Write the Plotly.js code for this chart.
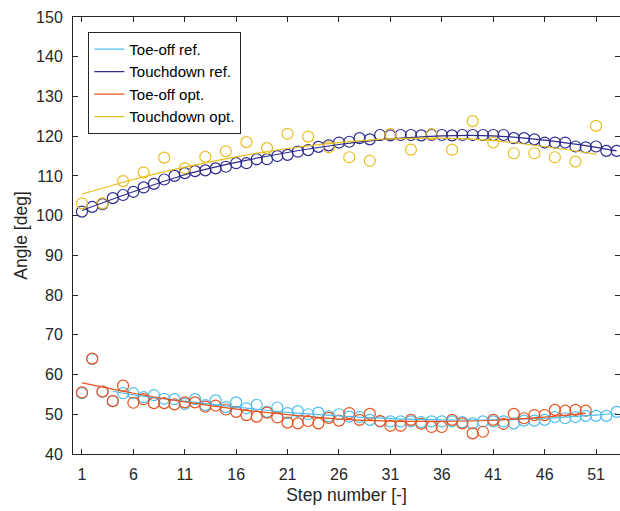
<!DOCTYPE html>
<html>
<head>
<meta charset="utf-8">
<script src="https://cdn.plot.ly/plotly-3.0.1.min.js"></script>
<style>html,body{margin:0;padding:0;background:#fff;}#chart{width:620px;height:511px;}</style>
</head>
<body>
<div id="chart"></div>
<script>
// ---- data ----
const stepsAll = Array.from({length: 53}, (_, i) => i + 1);
const stepsOpt = Array.from({length: 50}, (_, i) => i + 1);
const stepsOdd = Array.from({length: 26}, (_, i) => 2 * i + 1);

const xTickVals = [1, 6, 11, 16, 21, 26, 31, 36, 41, 46, 51];
const yTickVals = [40, 50, 60, 70, 80, 90, 100, 110, 120, 130, 140, 150];

const touchdownRef = [101.0,102.2,102.9,104.4,105.2,106.0,107.1,108.0,109.1,110.0,
  110.7,111.2,111.4,111.9,112.3,113.2,113.2,114.2,114.2,115.0,
  115.3,116.1,116.5,117.3,117.7,118.4,118.6,119.5,119.2,120.3,
  120.2,120.3,120.3,120.2,120.3,120.3,120.2,120.3,120.3,120.3,
  120.3,120.3,119.5,119.5,119.2,118.4,118.4,118.4,117.4,117.2,
  117.4,116.3,116.3];

const touchdownOpt = [103.1,103.1,108.7,110.9,114.6,111.9,114.8,116.2,118.5,117.0,
  120.6,119.9,117.2,114.7,113.8,120.5,116.6,120.5,116.6,123.8,
  118.4,115.7,115.7,114.7,113.6,122.6];

const toeoffRef = [55.3,63.9,55.7,53.3,55.3,55.3,54.3,54.8,53.9,53.8,
  52.6,53.8,52.3,53.5,51.8,53.0,51.5,52.4,50.6,51.7,
  50.3,50.8,50.0,50.4,49.5,50.0,49.4,49.3,48.6,48.2,
  48.2,48.2,48.2,48.0,48.2,48.2,48.2,48.0,47.7,48.2,
  48.2,48.2,47.7,48.4,48.4,48.6,49.3,49.0,49.3,49.6,
  49.6,49.6,50.6];

const toeoffOpt = [55.5,64.0,55.7,53.3,57.2,52.9,53.8,52.8,52.8,52.5,
  53.0,53.0,51.9,52.2,51.2,50.6,49.8,49.4,50.4,49.2,
  47.9,47.7,48.3,47.7,49.1,48.4,50.3,48.6,50.1,48.3,
  47.1,47.1,48.6,47.6,46.8,46.8,48.6,47.7,45.2,45.6,
  48.6,47.6,50.1,49.0,49.8,49.8,51.1,50.9,51.1,50.9];

// trend lines
const tdRefFitSteps = [1, 6, 11, 16, 21, 26, 31, 36, 41, 46, 51, 53];
const tdRefFit = [101.3, 106.0, 110.3, 113.4, 115.9, 117.9, 119.3, 120.1, 120.1, 119.0, 117.2, 116.3];
const tdOptFitSteps = [1, 6, 11, 16, 21, 26, 31, 36, 41, 46, 51];
const tdOptFit = [105.4, 109.1, 112.2, 114.8, 116.9, 118.4, 119.3, 119.5, 118.9, 117.4, 115.5];
const toRefFitSteps = [4, 6, 11, 16, 21, 26, 31, 36, 41, 46, 51, 53];
const toRefFit = [55.8, 54.9, 53.3, 51.8, 50.5, 49.6, 48.9, 48.6, 48.6, 49.0, 49.8, 50.2];
const toOptFitSteps = [1, 6, 11, 16, 21, 26, 31, 36, 41, 46, 50];
const toOptFit = [57.9, 55.3, 53.1, 51.3, 49.9, 48.8, 48.3, 48.2, 48.5, 49.3, 50.3];

const seriesNames = ['Toe-off ref.', 'Touchdown ref.', 'Toe-off opt.', 'Touchdown opt.'];

// ---- styling ----
const cCyan = '#4DBEEE', cNavy = '#2B2C8E', cOrange = '#E8521E', cYellow = '#E8BE1E';
const axisCol = '#262626';
const fontFam = 'Liberation Sans, Arial, Helvetica, sans-serif';

function markers(x, y, color) {
  return {x: x, y: y, type: 'scatter', mode: 'markers', showlegend: false, hoverinfo: 'skip',
    marker: {symbol: 'circle-open', size: 11, color: color, line: {width: 1.2, color: color}}};
}
function fit(x, y, color, name) {
  return {x: x, y: y, type: 'scatter', mode: 'lines', name: name,
    line: {color: color, width: 1.2, shape: 'spline', smoothing: 0.8}};
}

const data = [
  markers(stepsAll, toeoffRef, cCyan),
  markers(stepsAll, touchdownRef, cNavy),
  markers(stepsOpt, toeoffOpt, cOrange),
  markers(stepsOdd, touchdownOpt, cYellow),
  fit(toRefFitSteps, toRefFit, cCyan, seriesNames[0]),
  fit(tdRefFitSteps, tdRefFit, cNavy, seriesNames[1]),
  fit(toOptFitSteps, toOptFit, cOrange, seriesNames[2]),
  fit(tdOptFitSteps, tdOptFit, cYellow, seriesNames[3])
];

const layout = {
  width: 620, height: 511,
  margin: {l: 73, r: 0, t: 17, b: 57, pad: 0},
  paper_bgcolor: '#ffffff', plot_bgcolor: '#ffffff',
  font: {family: fontFam, color: axisCol, size: 16},
  showlegend: true,
  legend: {
    x: 0.028, y: 0.966, xanchor: 'left', yanchor: 'top',
    bgcolor: '#ffffff', bordercolor: axisCol, borderwidth: 1,
    font: {family: fontFam, size: 15, color: '#000000'},
    tracegroupgap: 0
  },
  xaxis: {
    range: [0.13, 53.33], tickmode: 'array', tickvals: xTickVals,
    ticks: 'inside', ticklen: 5, tickcolor: axisCol, tickwidth: 1,
    showline: true, linecolor: axisCol, linewidth: 1, mirror: 'ticks',
    showgrid: false, zeroline: false, automargin: false,
    ticklabelstandoff: 6,
    tickfont: {family: fontFam, size: 16, color: axisCol},
    title: {text: 'Step number [-]', font: {family: fontFam, size: 17.5, color: axisCol}, standoff: 6}
  },
  yaxis: {
    range: [40, 150], tickmode: 'array', tickvals: yTickVals,
    ticks: 'inside', ticklen: 5, tickcolor: axisCol, tickwidth: 1,
    showline: true, linecolor: axisCol, linewidth: 1, mirror: 'ticks',
    showgrid: false, zeroline: false, automargin: false,
    ticklabelstandoff: 6,
    tickfont: {family: fontFam, size: 16, color: axisCol},
    title: {text: 'Angle [deg]', font: {family: fontFam, size: 17.5, color: axisCol}, standoff: 3}
  }
};

Plotly.newPlot('chart', data, layout, {staticPlot: true, displayModeBar: false});
</script>
</body>
</html>
